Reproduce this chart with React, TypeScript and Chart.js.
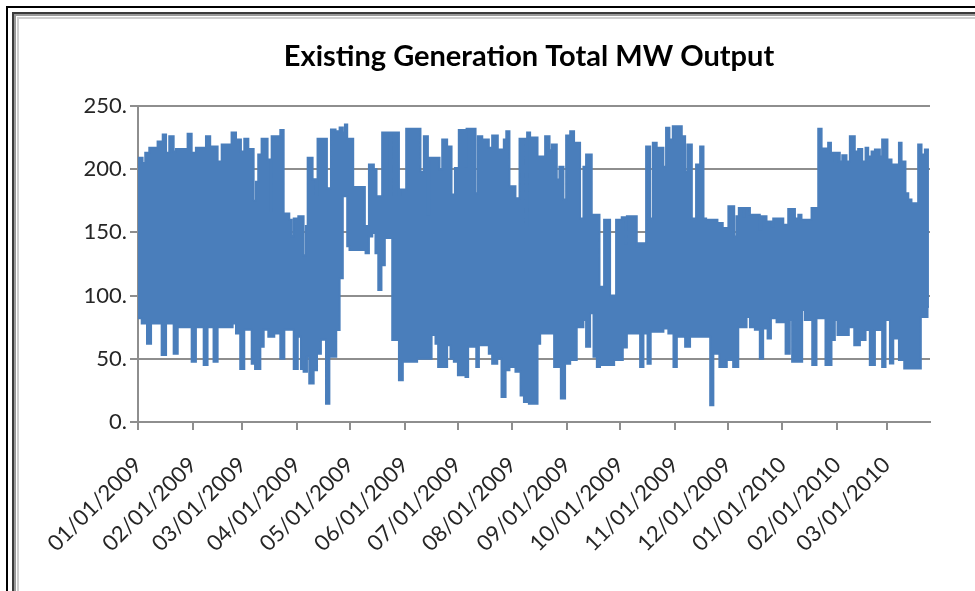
import React, { useEffect, useRef } from 'react';
import { Chart, registerables } from 'chart.js';

Chart.register(...registerables);

const CHART_TITLE = 'Existing Generation Total MW Output';

const MONTH_LABELS = [
  '01/01/2009', '02/01/2009', '03/01/2009', '04/01/2009', '05/01/2009',
  '06/01/2009', '07/01/2009', '08/01/2009', '09/01/2009', '10/01/2009',
  '11/01/2009', '12/01/2009', '01/01/2010', '02/01/2010', '03/01/2010',
];
// day offsets from 01/01/2009 of each month start
const MONTH_START_DAYS = [0, 31, 59, 90, 120, 151, 181, 212, 243, 273, 304, 334, 365, 396, 424];
const Y_TICK_VALUES = [0, 50, 100, 150, 200, 250];
const AXIS_END_DAY = 448.6;
const DATA_END_DAY = 448;

// Upper envelope of the hourly MW output: day where each level starts, MW
const HIGH_DAYS = [
  0, 2.6, 4.1, 6.4, 11.1, 14.0, 15.9, 17.7, 20.2, 21.5, 28.1, 30.4, 32.8, 38.5, 40.9,
  45.1, 47.4, 53.0, 55.5, 58.3, 60.2, 62.5, 65.5, 66.8, 68.1, 70.0, 73.4, 74.9, 75.7,
  80.6, 82.5, 85.7, 87.0, 88.2, 90.8, 93.8, 95.1, 96.1, 98.9, 100.8, 101.7, 107.0,
  109.3, 111.9, 114.2, 116.0, 117.2, 118.5, 121.9, 128.5, 130.8, 133.6, 135.1, 138.3,
  142.5, 143.6, 147.8, 148.7, 151.9, 160.0, 161.9, 164.2, 165.3, 170.8, 172.3, 175.1,
  177.6, 179.5, 181.7, 185.5, 186.1, 191.2, 192.5, 195.0, 198.7, 200.6, 203.8, 207.2,
  208.6, 210.4, 213.8, 216.1, 219.5, 220.4, 222.1, 226.3, 230.6, 233.1, 234.4, 237.2,
  238.7, 241.0, 242.5, 244.8, 247.0, 250.4, 252.3, 253.8, 257.0, 261.4, 264.0, 267.4,
  270.8, 274.0, 275.9, 276.9, 282.5, 283.5, 287.8, 290.1, 291.6, 293.8, 297.6, 299.1,
  301.0, 302.9, 308.0, 309.9, 311.2, 313.7, 316.1, 318.4, 320.3, 321.8, 328.2, 331.2,
  334.4, 337.7, 339.0, 340.3, 342.8, 343.7, 346.6, 352.2, 353.2, 356.0, 358.8, 359.8,
  365.5, 368.3, 372.1, 374.0, 375.8, 381.5, 385.3, 387.2, 390.9, 392.5, 394.7, 395.7,
  397.5, 398.9, 401.3, 403.2, 406.0, 407.9, 410.2, 412.1, 413.6, 415.5, 417.4, 420.2,
  421.5, 424.5, 426.8, 431.0, 432.5, 434.7, 436.3, 438.1, 441.9, 443.8, 445.7,
];
const HIGH_MW = [
  209, 205, 213, 217, 222, 227.5, 213, 226, 214, 216, 228, 213, 217, 226, 218,
  206, 219.6, 229, 223.5, 214, 224, 216, 175, 190, 211.6, 224, 207.7, 167, 226,
  231, 165, 160, 147, 161, 162.7, 132, 155, 209, 192, 180, 224, 185,
  231.5, 230, 233, 229, 235.4, 224, 186, 155, 203.7, 200, 178.6, 229,
  180, 229, 180, 184, 232, 198, 226, 164, 209, 200, 223.5, 218,
  180, 201, 231, 202, 232, 181, 226, 223.5, 217, 226.7, 215.6, 223.5,
  230, 186.5, 177, 224, 155, 229, 225, 210, 226, 215, 219.6, 191.8,
  202, 176, 226.7, 230, 221, 161, 202, 211.6, 164, 107, 160, 100,
  160, 162, 141.5, 162.7, 139, 141.5, 218, 161, 221, 217, 202, 232.8,
  223.5, 234, 226, 198, 219.6, 161, 203.7, 218, 161, 160, 157.4, 153.4,
  170.6, 146.8, 162.7, 169.3, 162.7, 169.3, 164, 152, 162.7, 158.7, 154.8, 161,
  156, 168.5, 161, 164, 160, 169.3, 232, 216.4, 221, 213, 206, 213,
  206, 211, 206, 226, 214, 216, 206, 217, 210, 214, 215.6, 210,
  223.5, 207.7, 203.7, 221, 206, 181, 176, 173, 219.6, 211.6, 215.6,
];

// Lower envelope of the hourly MW output: day where each level starts, MW
const LOW_DAYS = [
  0, 2.1, 5.1, 7.4, 13.4, 15.9, 20.2, 22.5, 30.4, 32.8, 37.2, 39.4, 42.8, 45.1, 53.6,
  55.5, 57.9, 60.2, 64.4, 66.3, 69.3, 71.2, 73.8, 77.2, 80.6, 82.9, 88.2, 90.5, 92.3,
  93.8, 95.7, 97.0, 99.5, 101.4, 103.6, 106.5, 108.4, 112.3, 114.2, 116.0, 118.5, 119.8,
  128.9, 130.8, 132.7, 134.5, 136.1, 137.9, 139.8, 144.0, 147.8, 150.0, 158.1, 166.3,
  168.5, 170.0, 175.1, 177.0, 178.9, 181.2, 185.5, 187.0, 191.6, 193.1, 198.7, 200.6,
  203.5, 205.9, 208.2, 210.4, 213.8, 216.7, 218.6, 221.4, 226.3, 227.8, 235.7, 239.5,
  241.9, 244.8, 248.5, 252.3, 253.8, 256.1, 258.0, 259.9, 261.7, 269.7, 274.6, 276.9,
  284.4, 286.3, 288.6, 290.4, 297.6, 300.4, 303.3, 305.2, 309.9, 312.7, 324.1, 325.9,
  329.3, 333.5, 337.1, 340.0, 344.7, 346.6, 349.4, 352.2, 354.1, 356.6, 358.5, 361.7,
  366.8, 369.2, 370.5, 376.2, 377.7, 381.9, 384.3, 389.4, 392.8, 394.7, 396.2, 402.6,
  405.7, 408.9, 412.1, 414.5, 417.4, 421.5, 423.4, 425.9, 427.8, 431.0, 434.0, 443.4,
  447.2,
];
const LOW_MW = [
  82, 78, 62, 78, 53, 78, 54, 75, 47.6, 75, 45, 75, 47.6, 75, 78,
  70, 42, 73, 46, 42, 59.5, 73, 67.5, 70, 50, 73, 42, 67.5, 42,
  39.7, 51.6, 30.4, 41, 54, 65, 14.5, 51.6, 72.8, 113.8, 178.6, 139, 136,
  133.6, 146.8, 149.5, 133.6, 104.5, 124, 145.5, 64.8, 33, 47.6, 50, 68.8,
  62, 43.6, 60.8, 50, 47.6, 37, 35.7, 59.5, 43.6, 60.8, 54, 46,
  50, 19.8, 41, 43.6, 39.7, 21, 15.9, 14.5, 62, 70, 43.6, 18.5,
  46, 49, 75, 80.7, 59.5, 86, 51.6, 43.6, 45, 49, 59, 70,
  43.6, 70, 46, 71.4, 74, 70, 43.6, 67.5, 59.5, 67.5, 13.2, 54,
  43.6, 49, 43.6, 75, 83, 75, 73, 50, 74, 66, 82, 79,
  54, 80.7, 47.6, 88.6, 80.7, 45, 82, 45, 64.8, 80.7, 68.8, 75,
  60.8, 64.8, 72.8, 45, 72.8, 43.6, 80.7, 46.3, 66, 49, 42.3, 83,
  91,
];

const SERIES_BLUE = '#4a7ebb';
const GRID_GRAY = '#8e8e8e';
const TEXT_COLOR = '#262626';
const FONT_FAMILY = 'Lato, "Open Sans", sans-serif';

function toPoints(days: number[], values: number[]) {
  const pts = days.map((d, i) => ({ x: d, y: values[i] }));
  pts.push({ x: DATA_END_DAY, y: values[values.length - 1] });
  return pts;
}

const titlePlugin = {
  id: 'excelTitle',
  afterDraw(chart: any) {
    const { ctx, chartArea } = chart;
    ctx.save();
    ctx.font = `bold 29px ${FONT_FAMILY}`;
    ctx.fillStyle = '#000';
    ctx.textAlign = 'center';
    ctx.textBaseline = 'middle';
    ctx.fillText(CHART_TITLE, (chartArea.left + chartArea.right) / 2 - 5, chartArea.top - 49);
    ctx.restore();
  },
};

export default function App() {
  const canvasRef = useRef<HTMLCanvasElement | null>(null);

  useEffect(() => {
    if (!canvasRef.current) return;
    const chart = new Chart(canvasRef.current, {
      type: 'line',
      data: {
        datasets: [
          {
            label: 'High',
            data: toPoints(HIGH_DAYS, HIGH_MW),
            stepped: true,
            borderColor: SERIES_BLUE,
            borderWidth: 2,
            pointRadius: 0,
            fill: false,
          },
          {
            label: 'Low',
            data: toPoints(LOW_DAYS, LOW_MW),
            stepped: true,
            borderColor: SERIES_BLUE,
            borderWidth: 2,
            pointRadius: 0,
            backgroundColor: SERIES_BLUE,
            fill: '-1',
          },
        ],
      },
      options: {
        animation: false,
        responsive: false,
        events: [],
        layout: { padding: { top: 86, right: 35, left: 0, bottom: 0 } },
        plugins: {
          legend: { display: false },
          tooltip: { enabled: false },
          title: { display: false },
        },
        scales: {
          x: {
            type: 'linear',
            min: 0,
            max: AXIS_END_DAY,
            afterBuildTicks: (s: any) => {
              s.ticks = MONTH_START_DAYS.map((v) => ({ value: v }));
            },
            afterFit: (s: any) => {
              s.height = 169;
            },
            ticks: {
              autoSkip: false,
              maxRotation: 45,
              minRotation: 45,
              padding: 22,
              font: { family: FONT_FAMILY, size: 22 },
              color: TEXT_COLOR,
              callback: (_v: any, i: number) => MONTH_LABELS[i],
            },
            grid: {
              drawOnChartArea: false,
              drawTicks: true,
              tickLength: 8,
              color: GRID_GRAY,
              lineWidth: 2,
            },
            border: { color: GRID_GRAY, width: 2 },
          },
          y: {
            min: 0,
            max: 250,
            afterBuildTicks: (s: any) => {
              s.ticks = Y_TICK_VALUES.map((v) => ({ value: v }));
            },
            afterFit: (s: any) => {
              s.width = 118;
            },
            ticks: {
              padding: 3,
              font: { family: FONT_FAMILY, size: 22 },
              color: TEXT_COLOR,
              callback: (v: any) => `${v}.`,
            },
            grid: { color: GRID_GRAY, lineWidth: 2, tickLength: 8 },
            border: { color: GRID_GRAY, width: 2 },
          },
        },
      },
      plugins: [titlePlugin],
    });
    return () => chart.destroy();
  }, []);

  return (
    <div
      style={{
        position: 'absolute',
        left: 0,
        top: 0,
        width: 975,
        height: 591,
        background: '#fff',
        overflow: 'hidden',
      }}
    >
      <div
        style={{
          position: 'absolute',
          left: 6,
          top: 6,
          right: 0,
          bottom: 0,
          borderLeft: '2px solid #000',
          borderTop: '2px solid #000',
        }}
      />
      <div
        style={{
          position: 'absolute',
          left: 12,
          top: 12,
          right: 0,
          bottom: 0,
          borderLeft: '2px solid #3a3a3a',
          borderTop: '2px solid #3a3a3a',
        }}
      />
      <div
        style={{
          position: 'absolute',
          left: 14,
          top: 14,
          right: 0,
          bottom: 0,
          borderLeft: '2px solid #9a9a9a',
          borderTop: '2px solid #9a9a9a',
        }}
      />
      <div
        style={{
          position: 'absolute',
          left: 17,
          top: 17,
          right: 0,
          bottom: 0,
          borderLeft: '2px solid #cfcfcf',
          borderTop: '2px solid #cfcfcf',
        }}
      />
      <canvas
        ref={canvasRef}
        width={945}
        height={571}
        style={{ position: 'absolute', left: 20, top: 20, width: 945, height: 571 }}
      />
    </div>
  );
}
